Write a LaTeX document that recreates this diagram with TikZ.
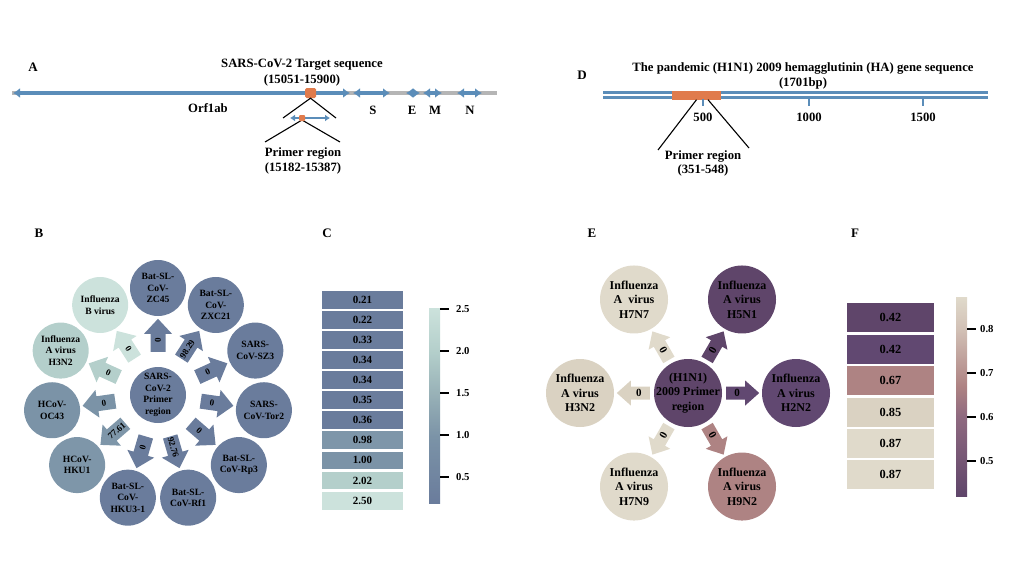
\documentclass[tikz,border=0pt]{standalone}
\usepackage{fontspec}
\setmainfont{Liberation Serif}
\usetikzlibrary{arrows.meta,calc,decorations.markings}

\definecolor{geneblue}{HTML}{5B8DB9}
\definecolor{genegrey}{HTML}{B5B5B5}
\definecolor{primorange}{HTML}{E07B4C}
\definecolor{bDark}{HTML}{6A7C9C}
\definecolor{bMidA}{HTML}{7E96A9}
\definecolor{bMidB}{HTML}{7B93A7}
\definecolor{bLightA}{HTML}{B4CFCB}
\definecolor{bLightB}{HTML}{CCE2DC}
\definecolor{bBar}{HTML}{98B1B7}
\definecolor{eDark}{HTML}{5F456A}
\definecolor{eDarkB}{HTML}{614871}
\definecolor{eMauve}{HTML}{AE8383}
\definecolor{eBeige}{HTML}{DAD2C2}
\definecolor{eBeigeB}{HTML}{E0DACB}
\definecolor{eBarA}{HTML}{8F6A80}
\definecolor{eBarB}{HTML}{D2C1B6}

\pgfdeclareverticalshading{cbarC}{100bp}{color(0bp)=(bDark); color(25bp)=(bDark); color(42bp)=(bMidB); color(53bp)=(bBar); color(64bp)=(bLightA); color(75bp)=(bLightB); color(100bp)=(bLightB)}
\pgfdeclareverticalshading{cbarF}{100bp}{color(0bp)=(eDark); color(25bp)=(eDark); color(45bp)=(eBarA); color(52.6bp)=(eMauve); color(67bp)=(eBarB); color(75bp)=(eBeigeB); color(100bp)=(eBeigeB)}

\tikzset{
lbl/.style={font=\fontsize{13}{15}\selectfont\bfseries},
ttl/.style={font=\fontsize{12.7}{15}\selectfont\bfseries, align=center, inner sep=0pt},
backbone/.style={draw=genegrey, line width=4.5pt},
gene/.style={draw=geneblue, line width=4.5pt, {Latex[width=10pt,length=7pt]}-{Latex[width=10pt,length=7pt]}},
subgene/.style={draw=geneblue, line width=2.8pt, {Latex[width=7pt,length=5pt]}-{Latex[width=7pt,length=5pt]}},
zoomline/.style={draw=black, line width=1.1pt},
tbox/.style={fill=primorange, minimum width=11pt, minimum height=10pt, inner sep=0pt, rounded corners=1.5pt},
pdot/.style={fill=primorange, minimum size=6pt, inner sep=0pt, rounded corners=1pt},
haline/.style={draw=geneblue, line width=2.3pt},
virB/.style={circle, inner sep=0pt, minimum size=56pt, align=center, font=\fontsize{9.6}{11.5}\selectfont\bfseries},
virE/.style={circle, inner sep=0pt, minimum size=68pt, align=center, font=\fontsize{12}{14.5}\selectfont\bfseries},
fatB/.style={decoration={markings, mark=at position 15pt with {\fill[#1] (0,-7.5) -- (18,-7.5) -- (18,-14) -- (33,0) -- (18,14) -- (18,7.5) -- (0,7.5) -- cycle;}}, postaction={decorate}},
fatE/.style={decoration={markings, mark=at position 4pt with {\fill[#1] (0,-6.5) -- (19,-6.5) -- (19,-12.5) -- (33,0) -- (19,12.5) -- (19,6.5) -- (0,6.5) -- cycle;}}, postaction={decorate}},
arrlbl/.style={sloped, inner sep=0pt, font=\fontsize{9}{10}\selectfont\bfseries},
cellC/.style={minimum width=81pt, minimum height=17.8pt, inner sep=0pt, font=\fontsize{11}{13}\selectfont\bfseries},
cellF/.style={minimum width=87.6pt, minimum height=29.1pt, inner sep=0pt, font=\fontsize{12.4}{14}\selectfont\bfseries},
cbtick/.style={draw=black, line width=1.4pt},
cbtxt/.style={anchor=west, inner sep=0pt, font=\fontsize{10.7}{12}\selectfont\bfseries},
}

\begin{document}
\begin{tikzpicture}[x=1pt, y=-1pt]
\useasboundingbox (0,0) rectangle (1024,576);

% A: genome map
\node[lbl] (labA) at (33,67) {A};
\node[ttl, font=\fontsize{12.7}{16}\selectfont\bfseries] (titA) at (302,73) {SARS-CoV-2 Target sequence\\(15051-15900)};
\draw[backbone] (12,93) -- (497,93);
\foreach \ga/\gb/\gname/\lx/\ly in {13/350/Orf1ab/208/108, 353/390/S/373/110, 406/420/E/412/110, 423/442/M/435/110, 457/482/N/470/110}{
  \draw[gene] (\ga,93) -- (\gb,93);
  \node[ttl] (g\gname) at (\lx,\ly) {\gname};
}
\node[tbox] (tgt) at (310.5,93) {};
\coordinate (zl) at (283,118);
\coordinate (zr) at (336,118);
\draw[zoomline] (zl) -- (tgt.south) -- (zr);
\coordinate (pl) at (290,118);
\coordinate (pr) at (330,118);
\draw[subgene] (pl) -- (pr);
\coordinate (ql) at (265,142);
\coordinate (qr) at (340,142);
\draw[zoomline] (ql) -- (302,120) -- (qr);
\node[pdot] (pd) at (302,118) {};
\node[ttl] (prA) at (303,160.5) {Primer region\\(15182-15387)};

% D: HA gene
\node[lbl] (labD) at (582,75) {D};
\node[ttl] (titD) at (803,75.8) {The pandemic (H1N1) 2009 hemagglutinin (HA) gene sequence\\(1701bp)};
\draw[haline] (603,92.5) -- (988,92.5);
\draw[haline] (603,97.5) -- (988,97.5);
\node[fill=primorange, minimum width=49pt, minimum height=9pt, inner sep=0pt] (hbox) at (696.5,95) {};
\foreach \x/\t in {703/500, 809/1000, 923/1500}{
  \draw[haline, line width=2.2pt] (\x,99) -- (\x,106);
  \node[ttl] (tk\t) at (\x,117) {\t};
}
\coordinate (dl) at (658,150);
\coordinate (dr) at (749,148);
\draw[zoomline] (hbox.south) -- (dl);
\draw[zoomline] ([xshift=11.5pt]hbox.south) -- (dr);
\node[ttl, font=\fontsize{12.7}{14.5}\selectfont\bfseries] (prD) at (703,163.5) {Primer region\\(351-548)};

% B: SARS-CoV-2 primer vs. related viruses
\node[lbl] (labB) at (39,233) {B};
\node[virB, fill=bDark] (cB) at (158,395) {SARS-\\CoV-2\\Primer\\region};
\foreach \k/\nm/\col/\val [evaluate=\k as \ang using -90+32.727*\k] in {
  0/{Bat-SL-\\CoV-\\ZC45}/bDark/0,
  1/{Bat-SL-\\CoV-\\ZXC21}/bDark/98.29,
  2/{SARS-\\CoV-SZ3}/bDark/0,
  3/{SARS-\\CoV-Tor2}/bDark/0,
  4/{Bat-SL-\\CoV-Rp3}/bDark/0,
  5/{Bat-SL-\\CoV-Rf1}/bDark/92.76,
  6/{Bat-SL-\\CoV-\\HKU3-1}/bDark/0,
  7/{HCoV-\\HKU1}/bMidA/77.61,
  8/{HCoV-\\OC43}/bMidB/0,
  9/{Influenza\\A virus\\H3N2}/bLightA/0,
  10/{Influenza\\B virus}/bLightB/0}{
  \node[virB, fill=\col] (o\k) at ($(cB)+(\ang:107)$) {\nm};
  \path[fatB=\col] (cB) -- node[arrlbl, pos=.52] {\val} (o\k);
}

% C: heat map B
\node[lbl] (labC) at (327,233) {C};
\foreach \v/\col [count=\i from 0] in {0.21/bDark, 0.22/bDark, 0.33/bDark, 0.34/bDark, 0.34/bDark, 0.35/bDark, 0.36/bDark, 0.98/bMidA, 1.00/bMidB, 2.02/bLightA, 2.50/bLightB}
  \node[cellC, fill=\col] (hc\i) at (362.5,299.6+20.1*\i) {\v};
\shade[shading=cbarC] (429,308) rectangle (440,503);
\foreach \v [count=\j] in {0.5,1.0,1.5,2.0,2.5}{
  \draw[cbtick] (440,{477-(\v-0.5)*84}) -- (449,{477-(\v-0.5)*84});
  \node[cbtxt] (kC\j) at (456,{477-(\v-0.5)*84}) {\v};
}

% E: H1N1 primer vs. influenza A subtypes
\node[lbl] (labE) at (592,233) {E};
\node[virE, fill=eDark, inner sep=-6pt] (cE) at (688,393) {(H1N1)\\2009 Primer\\region};
\foreach \a/\nm/\col [count=\i] in {
  0/{Influenza\\A virus\\H2N2}/eDarkB,
  -60/{Influenza\\A virus\\H5N1}/eDark,
  -120/{Influenza\\A\ \ virus\\H7N7}/eBeigeB,
  180/{Influenza\\A virus\\H3N2}/eBeige,
  120/{Influenza\\A virus\\H7N9}/eBeigeB,
  60/{Influenza\\A virus\\H9N2}/eMauve}{
  \node[virE, fill=\col] (e\i) at ($(cE)+(\a:108)$) {\nm};
  \path[fatE=\col] (cE) -- node[arrlbl, pos=.375, font=\fontsize{11}{12}\selectfont\bfseries] {0} (e\i);
}

% F: heat map E
\node[lbl] (labF) at (855,233) {F};
\foreach \v/\col [count=\i from 0] in {0.42/eDark, 0.42/eDarkB, 0.67/eMauve, 0.85/eBeige, 0.87/eBeigeB, 0.87/eBeigeB}
  \node[cellF, fill=\col] (hf\i) at (890.5,317.9+31.4*\i) {\v};
\shade[shading=cbarF] (956,297) rectangle (967,496);
\foreach \v [count=\j] in {0.5,0.6,0.7,0.8}{
  \draw[cbtick] (967,{461-(\v-0.5)*440}) -- (976,{461-(\v-0.5)*440});
  \node[cbtxt] (kF\j) at (980,{461-(\v-0.5)*440}) {\v};
}
\end{tikzpicture}
\end{document}
